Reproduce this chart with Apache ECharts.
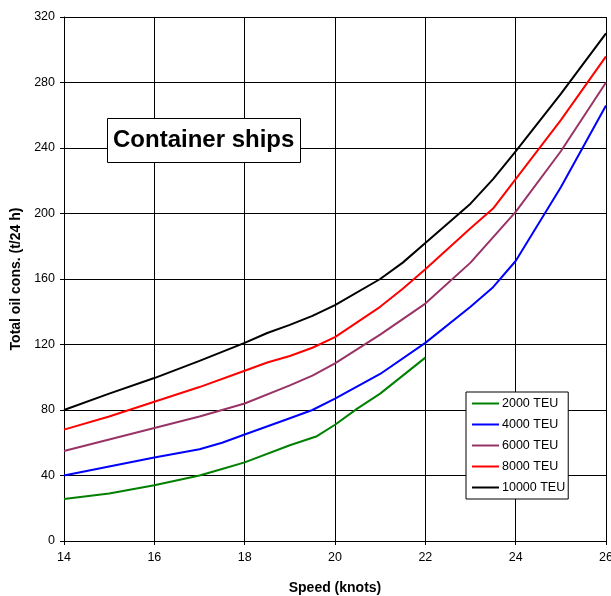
<!DOCTYPE html>
<html>
<head>
<meta charset="utf-8">
<script src="https://cdn.jsdelivr.net/npm/echarts@6/dist/echarts.min.js"></script>
<style>html,body{margin:0;padding:0;background:#fff}#c{width:611px;height:596px}</style>
</head>
<body>
<div id="c"></div>
<script>
const seriesNames = ['2000 TEU', '4000 TEU', '6000 TEU', '8000 TEU', '10000 TEU'];
const seriesColors = ['#008000', '#0000ff', '#993366', '#ff0000', '#000000'];
const teu2000 = [[14,25.6],[15,29],[16,34],[17,40],[17.5,44],[18,48],[19,58.5],[19.6,64],[20,71],[20.5,81],[21,90],[21.5,101],[22,112]];
const teu4000 = [[14,40],[15,45.5],[16,51],[17,56],[17.5,60],[18,65],[19,75],[19.5,80],[20,87],[21,102],[22,121],[23,143],[23.5,155],[24,171],[25,216],[26,266]];
const teu6000 = [[14,55],[15,62],[16,69],[17,76],[18,84],[19,95],[19.5,101],[20,108.5],[21,126],[22,145],[23,170],[24,201],[25,238],[26,280]];
const teu8000 = [[14,68],[15,76],[16,85],[17,94],[18,104],[18.5,109],[19,113],[19.5,118],[20,124.5],[21,143],[21.5,154],[22,166],[23,191],[23.5,203],[24,221],[25,257],[26,296]];
const teu10000 = [[14,80],[15,90],[16,99.5],[17,110],[18,121],[18.5,127],[19,132],[19.5,137.5],[20,144],[21,160],[21.5,170],[22,182],[23,206],[23.5,221],[24,238],[25,273],[26,310]];
const allData = [teu2000, teu4000, teu6000, teu8000, teu10000];

const chart = echarts.init(document.getElementById('c'));
chart.setOption({
  animation: false,
  backgroundColor: '#fff',
  textStyle: { fontFamily: 'Liberation Sans, Arial, sans-serif' },
  title: {
    text: 'Container ships',
    left: 107, top: 118,
    padding: [9, 6, 9, 6],
    borderColor: '#000', borderWidth: 1,
    backgroundColor: '#fff',
    textStyle: { fontSize: 24, fontWeight: 'bold', color: '#000', fontFamily: 'Liberation Sans, Arial, sans-serif', lineHeight: 27 }
  },
  legend: {
    orient: 'vertical',
    left: 466, top: 392,
    padding: [4, 3, 4, 6],
    itemGap: 6,
    itemWidth: 27, itemHeight: 2,
    icon: 'rect',
    borderColor: '#000', borderWidth: 1,
    backgroundColor: '#fff',
    textStyle: { fontSize: 12.5, color: '#000', padding: [0, 0, 0, -2], lineHeight: 15 },
    data: seriesNames
  },
  grid: { left: 64, right: 5, top: 17, bottom: 55, containLabel: false, outerBoundsMode: 'none' },
  xAxis: {
    type: 'value', min: 14, max: 26, interval: 2,
    name: 'Speed (knots)', nameLocation: 'middle', nameGap: 40,
    nameTextStyle: { fontSize: 14, fontWeight: 'bold', color: '#000' },
    axisLine: { show: true, lineStyle: { color: '#000', width: 1 } },
    axisTick: { show: true, length: 4, lineStyle: { color: '#000' } },
    axisLabel: { fontSize: 12.5, color: '#000', margin: 10 },
    splitLine: { show: true, lineStyle: { color: '#000', width: 1 } }
  },
  yAxis: {
    type: 'value', min: 0, max: 320, interval: 40,
    name: 'Total oil cons. (t/24 h)', nameLocation: 'middle', nameGap: 39,
    nameTextStyle: { fontSize: 14, fontWeight: 'bold', color: '#000' },
    axisLine: { show: true, lineStyle: { color: '#000', width: 1 } },
    axisTick: { show: true, length: 4, lineStyle: { color: '#000' } },
    axisLabel: { fontSize: 12.5, color: '#000', margin: 9 },
    splitLine: { show: true, lineStyle: { color: '#000', width: 1 } }
  },
  series: seriesNames.map((n, i) => ({
    name: n, type: 'line', data: allData[i],
    showSymbol: false, symbol: 'none',
    color: seriesColors[i],
    lineStyle: { width: 2, color: seriesColors[i] },
    z: 2 + i
  }))
});
</script>
</body>
</html>
